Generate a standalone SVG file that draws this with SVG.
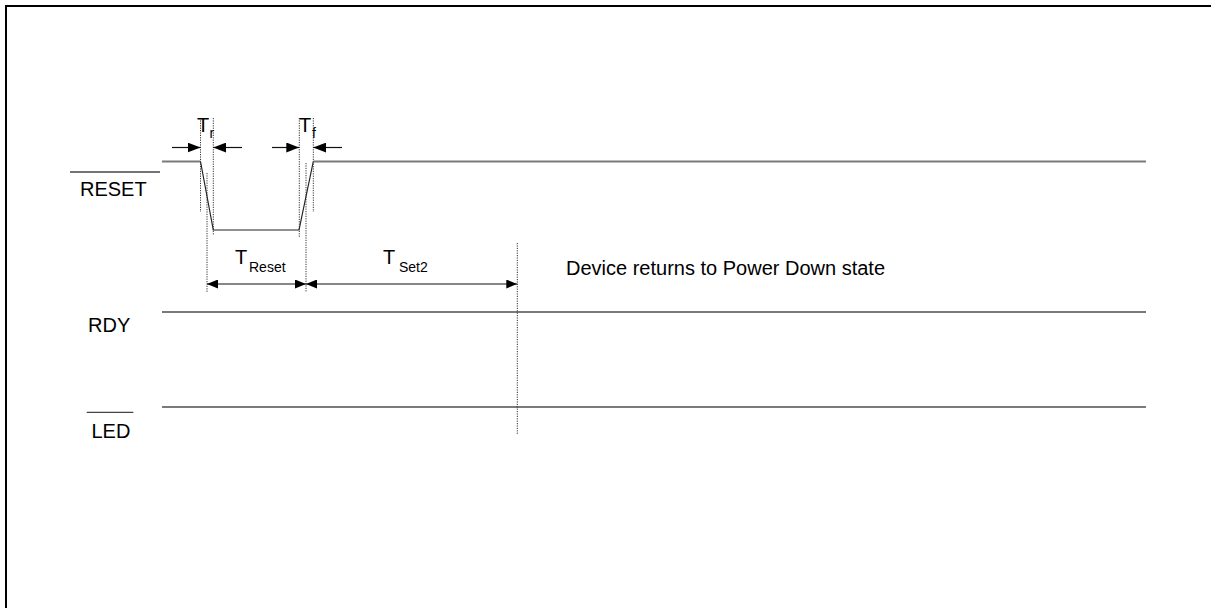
<svg xmlns="http://www.w3.org/2000/svg" width="1211" height="608" viewBox="0 0 1211 608">
  <style>
    .txt { font-family: "Liberation Sans", Arial, sans-serif; fill: #000; }
    .lbl { font-size: 20px; }
    .sub { font-size: 14px; }
    .sig { stroke: #7a7a7a; stroke-width: 2; fill: none; }
    .edge { stroke: #222; stroke-width: 1.2; fill: none; }
    .bar { stroke: #444; stroke-width: 1.3; }
    .dot { stroke: #333; stroke-width: 1; stroke-dasharray: 1.2 1.2; fill: none; }
    .dim { stroke: #111; stroke-width: 1.2; fill: none; }
  </style>
  <defs>
    <marker id="ah" markerUnits="userSpaceOnUse" markerWidth="11" markerHeight="9" refX="11" refY="4.5" orient="auto-start-reverse">
      <path d="M0,0 L11,4.5 L0,9 z" fill="#000"/>
    </marker>
    <marker id="ahL" markerUnits="userSpaceOnUse" markerWidth="13" markerHeight="10" refX="13" refY="5" orient="auto">
      <path d="M0,0 L13,5 L0,10 z" fill="#000"/>
    </marker>
  </defs>
  <rect width="1211" height="608" fill="#fff"/>
  <path d="M6,608 V6 H1211" stroke="#000" stroke-width="2" fill="none"/>

  <g id="reset">
    <line class="bar" x1="70" y1="172" x2="160" y2="172"/>
    <text class="txt lbl" x="80" y="196">RESET</text>
    <path class="sig" d="M162,161.5 H200.5"/>
    <path class="edge" d="M200.5,161.5 L213.3,230 H299 L313.3,161.5"/>
    <path class="sig" d="M313.3,161.5 H1146"/>
  </g>

  <g id="rdy">
    <text class="txt lbl" x="88" y="332">RDY</text>
    <line class="sig" x1="162" y1="312" x2="1146" y2="312"/>
  </g>

  <g id="led">
    <line class="bar" x1="86.7" y1="412.3" x2="133.3" y2="412.3"/>
    <text class="txt lbl" x="91.5" y="437.5">LED</text>
    <line class="sig" x1="162" y1="407" x2="1146" y2="407"/>
  </g>

  <g id="guides">
    <line class="dot" x1="200.5" y1="118" x2="200.5" y2="212"/>
    <line class="dot" x1="213.3" y1="118" x2="213.3" y2="235"/>
    <line class="dot" x1="207" y1="173" x2="207" y2="292"/>
    <line class="dot" x1="299.3" y1="118" x2="299.3" y2="237"/>
    <line class="dot" x1="313.3" y1="118" x2="313.3" y2="212"/>
    <line class="dot" x1="306" y1="163" x2="306" y2="292"/>
    <line class="dot" x1="517.3" y1="243" x2="517.3" y2="435"/>
  </g>

  <g id="connectors">
    <line class="dim" x1="172" y1="147.5" x2="200.5" y2="147.5" marker-end="url(#ahL)"/>
    <line class="dim" x1="242" y1="147.5" x2="213.3" y2="147.5" marker-end="url(#ahL)"/>
    <line class="dim" x1="272" y1="147.5" x2="299.3" y2="147.5" marker-end="url(#ahL)"/>
    <line class="dim" x1="342" y1="147.5" x2="313.3" y2="147.5" marker-end="url(#ahL)"/>
    <line class="dim" x1="207" y1="284" x2="306" y2="284" stroke="#666" marker-start="url(#ah)" marker-end="url(#ah)"/>
    <line class="dim" x1="306" y1="284" x2="517.3" y2="284" marker-start="url(#ah)" marker-end="url(#ah)"/>
  </g>

  <g id="labels">
    <text class="txt lbl" x="197" y="132">T</text>
    <text class="txt sub" x="209.5" y="138">r</text>
    <text class="txt lbl" x="299" y="132">T</text>
    <text class="txt sub" x="312" y="138">f</text>
    <text class="txt lbl" x="235" y="264">T</text>
    <text class="txt sub" x="249" y="271.5">Reset</text>
    <text class="txt lbl" x="383" y="264">T</text>
    <text class="txt sub" x="399" y="271.5">Set2</text>
    <text class="txt lbl" x="566" y="275">Device returns to Power Down state</text>
  </g>
</svg>
